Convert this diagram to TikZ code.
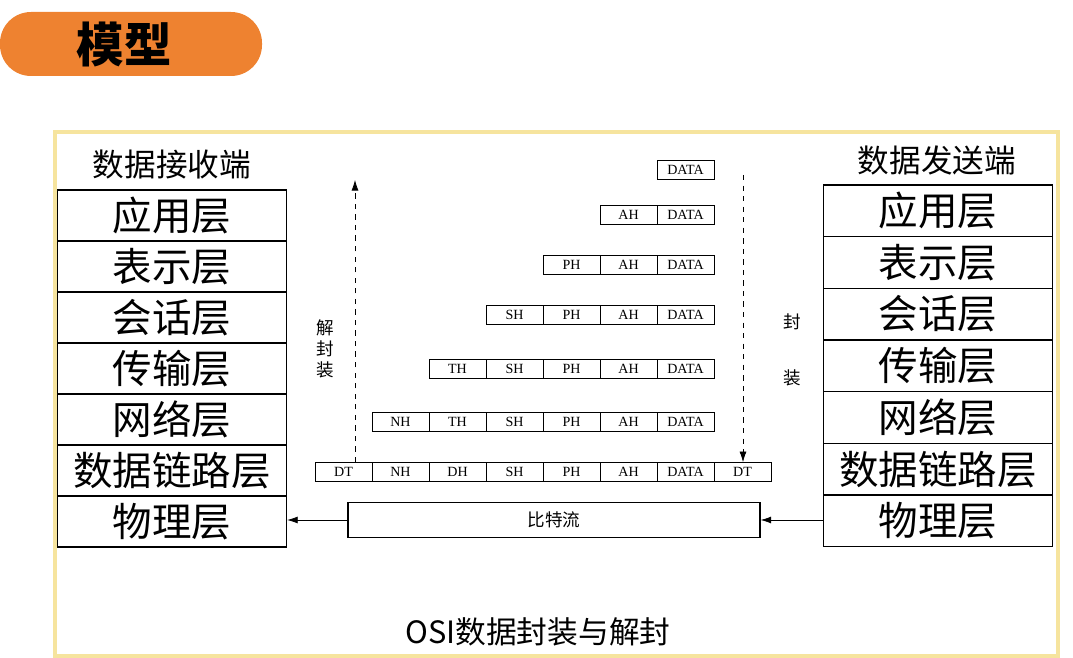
\documentclass[tikz,border=0pt]{standalone}
\usepackage{fontspec}
\setmainfont{Liberation Serif}
\newfontfamily\cjk{Noto Sans CJK SC}
\usetikzlibrary{positioning,arrows.meta}
\definecolor{tagorange}{HTML}{EE8230}
\definecolor{framey}{HTML}{F6E49E}
\tikzset{
  layerbox/.style={draw, thick, minimum width=4.58cm, minimum height=1.02cm, inner sep=0pt, font=\cjk\fontsize{22.5}{22.5}\selectfont},
  cellbox/.style={draw, minimum width=1.14cm, minimum height=0.38cm, inner sep=0pt, font=\fontsize{8}{8}\selectfont},
  lbl/.style={font=\cjk\fontsize{18}{18}\selectfont},
  tip/.style={-{Latex[length=6pt,width=4pt]}},
}
\begin{document}
\begin{tikzpicture}[x=0.02cm,y=-0.02cm]
\useasboundingbox (0,0) rectangle (1073,658);
% title tag
\fill[tagorange, rounded corners=0.62cm] (0,12) rectangle (262,76);
\node[font=\cjk\bfseries\fontsize{27}{27}\selectfont] (title) at (124,44) {模型};
% frame
\draw[framey, line width=2.5pt] (55,132) rectangle (1058,656);
% receiver stack
\node[lbl] (rxlabel) at (172,165) {数据接收端};
\foreach \t [count=\i] in {应用层,表示层,会话层,传输层,网络层,数据链路层,物理层}
  \node[layerbox] (rx\i) at (172,{164.5+51*\i}) {\t};
% sender stack
\node[lbl] (txlabel) at (937,160) {数据发送端};
\foreach \t [count=\i] in {应用层,表示层,会话层,传输层,网络层,数据链路层,物理层}
  \node[layerbox, minimum height=1.034cm] (tx\i) at (938,{159+51.7*\i}) {\t};
% packets
\foreach \y/\n in {170/1,215/2,265/3,315/4,369/5,422/6}
  \foreach \j in {1,...,\n}{
    \pgfmathsetmacro\h{{"DATA","AH","PH","SH","TH","NH"}[\j-1]}
    \node[cellbox] (p\n c\j) at ({685.5-57*(\j-1)},\y) {\h};
  }
\foreach \h [count=\j] in {DT,DATA,AH,PH,SH,DH,NH,DT}
  \node[cellbox] (b\j) at ({742.5-57*(\j-1)},472) {\h};
% bit stream
\node[draw, thick, minimum width=8.24cm, minimum height=0.7cm, font=\cjk\fontsize{10}{10}\selectfont] (bits) at (554,520) {比特流};
\draw[tip] (tx7.west |- bits.east) -- (bits.east);
\draw[tip] (bits.west) -- (rx7.east |- bits.west);
% dashed arrows
\coordinate (up) at (355,180);
\coordinate (down) at (743,175);
\draw[dashed, tip] (b8.north -| up) -- (up);
\draw[dashed, tip] (down) -- (b1.north -| down);
\node[font=\cjk\fontsize{10}{10}\selectfont, align=center] (decap) at (325,349) {解\\[2pt]封\\[2pt]装};
\node[font=\cjk\fontsize{10}{10}\selectfont, align=center] (encap) at (792,350) {封\\[22pt]装};
% caption
\node[font=\cjk\fontsize{17.5}{17.5}\selectfont] (caption) at (538,632) {OSI数据封装与解封};
\end{tikzpicture}
\end{document}
